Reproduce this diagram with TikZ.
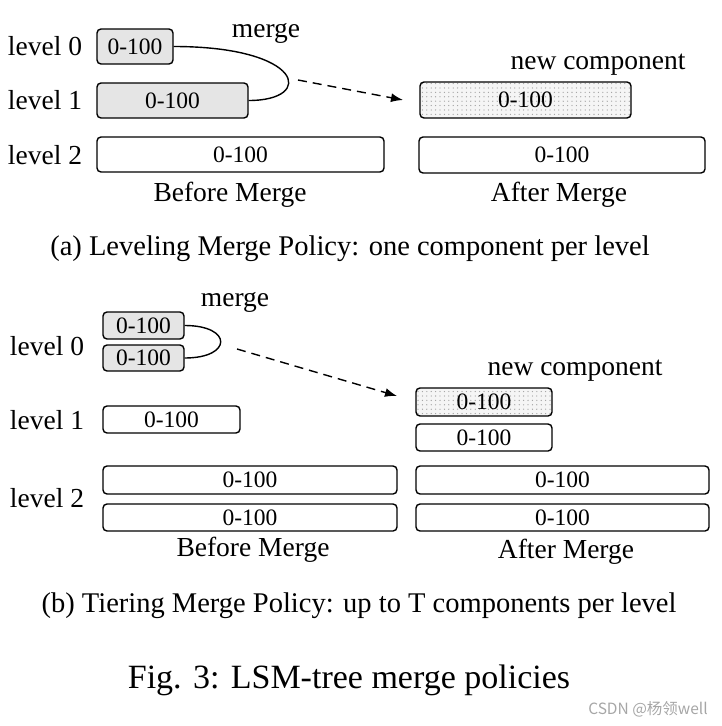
\documentclass[tikz,border=0pt]{standalone}
\usepackage{fontspec}
\setmainfont{Liberation Serif}
\newfontfamily\cjkfont{Noto Sans CJK SC}
\usetikzlibrary{arrows.meta}
\usetikzlibrary{patterns.meta}

\begin{document}
\begin{tikzpicture}[x=1pt,y=-1pt,
  comp/.style={draw,line width=1.4pt,rounded corners=4pt,inner sep=0pt,font=\fontsize{23.5}{24}\selectfont},
  old/.style={comp,fill=gray!20},
  fresh/.style={comp,preaction={fill=gray!8},pattern={Dots[distance=4.4pt,radius=0.65pt]},pattern color=gray!75},
  lbl/.style={font=\fontsize{27.5}{30}\selectfont,inner sep=0pt},
  subcap/.style={font=\fontsize{28.5}{30}\selectfont,inner sep=0pt},
  mergeline/.style={line width=1.4pt},
  move/.style={line width=1.4pt,dash pattern=on 9pt off 6pt,-{Latex[length=12pt,width=9pt]}}]

\useasboundingbox (0,0) rectangle (722,726);

\node[lbl] (al0) at (45,46) {level 0};
\node[lbl] (al1) at (45,100) {level 1};
\node[lbl] (al2) at (45,155) {level 2};
\node[old,minimum width=76,minimum height=35] (a0) at (135,46.5) {0-100};
\node[old,minimum width=151,minimum height=35] (a1) at (172.5,100.5) {0-100};
\node[comp,minimum width=287,minimum height=35] (a2) at (240.5,154.5) {0-100};
\node[fresh,minimum width=211,minimum height=36] (an) at (525.5,100) {0-100};
\node[comp,minimum width=286,minimum height=36] (aa2) at (562,155) {0-100};
\draw[mergeline] (a0.east) .. controls +(130,0) and +(67,0) .. (a1.east);
\node[lbl] (am) at (266,33) {merge};
\node[lbl] (anc) at (598,65) {new component};
\coordinate (as) at (298,80);
\coordinate (ae) at (403,100);
\draw[move] (as) -- (ae);
\node[lbl] (ab) at (230,195) {Before Merge};
\node[lbl] (aa) at (559,195) {After Merge};
\node[subcap] (acap) at (350,249) {(a) Leveling Merge Policy: one component per level};

\node[lbl] (bl0) at (47,346) {level 0};
\node[lbl] (bl1) at (47,420) {level 1};
\node[lbl] (bl2) at (47,498) {level 2};
\node[old,minimum width=81,minimum height=27] (b0a) at (143.5,325.5) {0-100};
\node[old,minimum width=81,minimum height=26] (b0b) at (143.5,358) {0-100};
\node[comp,minimum width=137,minimum height=27] (b1) at (171.5,419.5) {0-100};
\node[comp,minimum width=294,minimum height=28] (b2a) at (250,480) {0-100};
\node[comp,minimum width=294,minimum height=27] (b2b) at (250,517.5) {0-100};
\node[fresh,minimum width=136,minimum height=28] (bn) at (484,402) {0-100};
\node[comp,minimum width=136,minimum height=27] (bb1) at (484,437.5) {0-100};
\node[comp,minimum width=293,minimum height=28] (bb2a) at (562.5,480) {0-100};
\node[comp,minimum width=293,minimum height=27] (bb2b) at (562.5,517.5) {0-100};
\draw[mergeline] (b0a.east) .. controls +(48,0) and +(48,0) .. (b0b.east);
\node[lbl] (bm) at (235,302) {merge};
\node[lbl] (bnc) at (575,371) {new component};
\coordinate (bs) at (237,349);
\coordinate (be) at (397,396);
\draw[move] (bs) -- (be);
\node[lbl] (bb) at (253,550) {Before Merge};
\node[lbl] (ba) at (566,552) {After Merge};
\node[subcap] (bcap) at (359,606) {(b) Tiering Merge Policy: up to T components per level};

\node[font=\fontsize{34}{36}\selectfont,inner sep=0pt] (fig) at (349,680) {Fig. 3: LSM-tree merge policies};
\node[font=\cjkfont\fontsize{15.5}{17}\selectfont,text=gray!70,inner sep=0pt] (wm) at (648,709) {CSDN @杨领well};
\end{tikzpicture}
\end{document}
